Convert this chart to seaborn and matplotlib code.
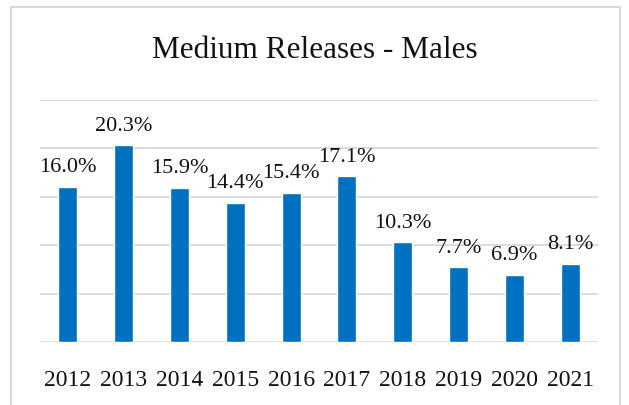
import matplotlib
matplotlib.use('Agg')
import matplotlib.pyplot as plt
import matplotlib.patches as patches
import seaborn as sb
import pandas as pd

years = ['2012', '2013', '2014', '2015', '2016', '2017', '2018', '2019', '2020', '2021']
rates = [16.0, 20.3, 15.9, 14.4, 15.4, 17.1, 10.3, 7.7, 6.9, 8.1]
title = 'Medium Releases - Males'

sb.set_style('white')
plt.rcParams['font.family'] = ['Liberation Serif', 'DejaVu Serif']

df = pd.DataFrame({'year': years, 'rate': rates})

W, H = 629, 405
f = plt.figure(figsize=(W / 100, H / 100), dpi=100)
ax = f.add_axes([40 / W, 1 - 342 / H, (598 - 40) / W, (342 - 100) / H])

sb.barplot(data=df, x='year', y='rate', color='#0070C0', saturation=1,
           width=0.34, ax=ax, zorder=3)

ax.set_ylim(0, 25)
ax.set_xlim(-0.5, len(years) - 0.5)
ax.set_yticks([0, 5, 10, 15, 20, 25])
ax.yaxis.grid(True, color='#d9d9d9', linewidth=1.3, zorder=0)
ax.tick_params(axis='y', left=False, labelleft=False)
ax.tick_params(axis='x', bottom=False, labelsize=17, pad=17, colors='#111111')
ax.set_xlabel('')
ax.set_ylabel('')
for s in ax.spines.values():
    s.set_visible(False)

for i, v in enumerate(rates):
    ax.annotate('%.1f%%' % v, (i, v), xytext=(0, 7), textcoords='offset points',
                ha='center', va='bottom', fontsize=16, color='#111111')

f.text(0.5, 1 - 50 / H, title, ha='center', va='center', fontsize=22.5, color='#111111')

# light grey chart border (bottom runs off the picture)
f.patches.append(patches.Rectangle((11 / W, -0.05), (620 - 11) / W, 1 - 7 / H + 0.05,
                                   transform=f.transFigure, fill=False,
                                   edgecolor='#d9d9d9', linewidth=1.5))

f.savefig('out.png', dpi=100)
